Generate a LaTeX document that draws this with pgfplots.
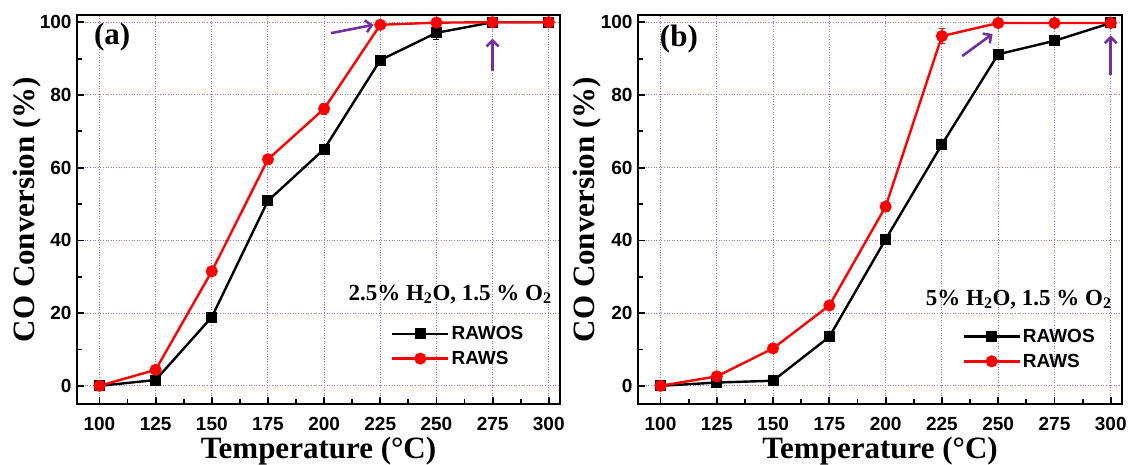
\documentclass[border=0pt]{standalone}
\usepackage{pgfplots}
\pgfplotsset{compat=1.18}
\usetikzlibrary{arrows.meta}
\usepackage{fontspec}
\setmainfont{Liberation Serif}
\newfontfamily\arial{Liberation Sans}
\definecolor{gridc}{RGB}{140,120,215}
\definecolor{arrowc}{RGB}{112,48,160}
\definecolor{myred}{RGB}{255,0,0}
\pgfplotsset{
  myaxis/.style={
    scale only axis, width=483pt, height=389pt,
    xmin=90, xmax=305, ymin=-5, ymax=102,
    xtick={100,125,...,300}, ytick={0,20,...,100},
    minor x tick num=1, minor y tick num=1,
    tick pos=left, tick align=inside,
    major tick length=7pt, minor tick length=5pt,
    every tick/.style={black, line width=1.8pt},
    axis line style={line width=2.6pt},
    grid=major,
    major grid style={gridc, dash pattern=on 1pt off 1.6pt, line width=1pt},
    /pgf/number format/assume math mode=true,
    tick label style={font=\fontsize{19}{21}\selectfont\arial\bfseries},
    xticklabel style={yshift=-10pt},
    yticklabel style={xshift=-2pt},
    xlabel={Temperature (°C)},
    ylabel={CO Conversion (\%)},
    label style={font=\fontsize{31}{35}\selectfont\bfseries},
    xlabel style={at={(rel axis cs:0.5,0)}, anchor=base, yshift=-54pt},
    ylabel style={at={(rel axis cs:0,0.5)}, anchor=south, yshift=32pt},
    legend style={draw=none, fill=none, font=\fontsize{19}{21}\selectfont\arial\bfseries, row sep=6pt, inner sep=0pt,
      /tikz/every even column/.append style={column sep=5pt}},
    legend cell align=left,
    legend image code/.code={\draw[mark repeat=2,mark phase=2,##1] plot coordinates {(0pt,0pt)(28pt,0pt)(56pt,0pt)};},
    error bars/y dir=both, error bars/y explicit,
    error bars/error bar style={line width=0.8pt},
    error bars/error mark options={rotate=90, mark size=3pt, line width=0.8pt},
  },
  blk/.style={black, line width=2.4pt, mark=square*, mark size=4.3pt, mark options={solid}},
  rd/.style={myred, line width=2.4pt, mark=*, mark size=4.8pt, mark options={solid}},
}
\begin{document}
\begin{tikzpicture}[x=1pt,y=1pt]
\useasboundingbox (0,0) rectangle (1129,464);
% ---------------- panel (a)
\begin{axis}[myaxis, at={(77pt,60pt)}, anchor=south west,
  legend style={at={(rel axis cs:0.65,0.205)}, anchor=north west}]
\addplot+[blk] coordinates {
 (100,0) +- (0,0.3) (125,1.6) +- (0,0.5) (150,18.9) +- (0,0.8) (175,50.9) +- (0,1)
 (200,65.1) +- (0,1.2) (225,89.6) +- (0,1.2) (250,97.1) +- (0,1.8) (275,100) +- (0,0.4) (300,100) +- (0,0.3)};
\addlegendentry{RAWOS}
\addplot+[rd] coordinates {
 (100,0) +- (0,0.3) (125,4.4) +- (0,0.5) (150,31.5) +- (0,0.8) (175,62.3) +- (0,1.3)
 (200,76.2) +- (0,1.5) (225,99.3) +- (0,1.3) (250,99.9) +- (0,0.8) (275,100) +- (0,0.4) (300,100) +- (0,0.3)};
\addlegendentry{RAWS}
\node[anchor=west, font=\fontsize{31}{34}\selectfont\bfseries, inner sep=0pt] at (rel axis cs:0.035,0.943) {(a)};
\node[anchor=base east, font=\fontsize{23}{26}\selectfont\bfseries, inner sep=0pt] at (rel axis cs:0.983,0.267) {2.5\% H\textsubscript{2}O, 1.5 \% O\textsubscript{2}};
\draw[arrowc, line width=2.6pt, -{Straight Barb[length=6pt,width=12pt]}] (axis cs:203,97.0) -- (axis cs:222,99.3);
\draw[arrowc, line width=2.6pt, -{Straight Barb[length=6pt,width=12pt]}] (axis cs:275,86.5) -- (axis cs:275,95.5);
\end{axis}
% ---------------- panel (b)
\begin{axis}[myaxis, at={(638pt,60pt)}, anchor=south west, width=484pt,
  ylabel style={yshift=1pt},
  legend style={at={(rel axis cs:0.67,0.198)}, anchor=north west}]
\addplot+[blk] coordinates {
 (100,0) +- (0,0.3) (125,0.9) +- (0,0.4) (150,1.4) +- (0,0.5) (175,13.5) +- (0,0.8)
 (200,40.3) +- (0,1) (225,66.4) +- (0,1.5) (250,91.2) +- (0,1.3) (275,94.9) +- (0,1.3) (300,99.8) +- (0,0.5)};
\addlegendentry{RAWOS}
\addplot+[rd] coordinates {
 (100,0) +- (0,0.3) (125,2.6) +- (0,0.5) (150,10.3) +- (0,0.6) (175,22.1) +- (0,0.8)
 (200,49.3) +- (0,1.2) (225,96.2) +- (0,2) (250,99.8) +- (0,0.6) (275,99.8) +- (0,0.8) (300,99.8) +- (0,0.4)};
\addlegendentry{RAWS}
\node[anchor=west, font=\fontsize{31}{34}\selectfont\bfseries, inner sep=0pt] at (rel axis cs:0.045,0.938) {(b)};
\node[anchor=base east, font=\fontsize{23}{26}\selectfont\bfseries, inner sep=0pt] at (rel axis cs:0.979,0.2545) {5\% H\textsubscript{2}O, 1.5 \% O\textsubscript{2}};
\draw[arrowc, line width=2.6pt, -{Straight Barb[length=6pt,width=12pt]}] (axis cs:234,90.7) -- (axis cs:247.5,96.8);
\draw[arrowc, line width=2.6pt, -{Straight Barb[length=6pt,width=12pt]}] (axis cs:300,85.6) -- (axis cs:300,96.4);
\end{axis}
\end{tikzpicture}
\end{document}
